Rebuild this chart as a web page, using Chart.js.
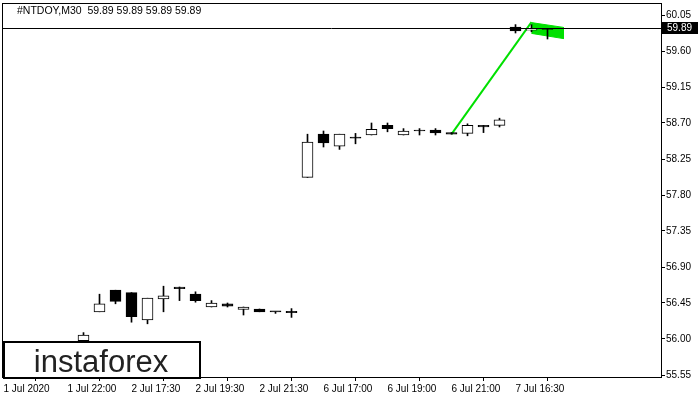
<!DOCTYPE html>
<html>
<head>
<meta charset="UTF-8">
<title>NTDOY M30</title>
<script src="https://cdn.jsdelivr.net/npm/chart.js"></script>
<style>
    body { margin: 0; background: #fff; }
    canvas { display: block; }
</style>
</head>
<body>
<canvas id="grafico" width="700" height="400"></canvas>
<script>
// candles by bar index (0..34), the first five are not visible
const opens  = [null, null, null, null, null, 55.98, 56.34, 56.61, 56.58, 56.24, 56.50, 56.65, 56.56, 56.40, 56.44, 56.37, 56.375, 56.34, 56.345, 58.02, 58.56, 58.41, 58.51, 58.55, 58.67, 58.55, 58.60, 58.61, 58.58, 58.57, 58.67, 58.67, 59.90, 59.86, 59.87];
const highs  = [null, null, null, null, null, 56.08, 56.56, 56.61, 56.58, 56.51, 56.66, 56.65, 56.59, 56.48, 56.45, 56.40, 56.375, 56.34, 56.38, 58.56, 58.60, 58.56, 58.57, 58.70, 58.70, 58.63, 58.63, 58.63, 58.58, 58.69, 58.67, 58.76, 59.93, 59.93, 59.88];
const lows   = [null, null, null, null, null, 55.95, 56.34, 56.44, 56.21, 56.19, 56.34, 56.48, 56.46, 56.40, 56.40, 56.30, 56.34, 56.32, 56.27, 58.02, 58.40, 58.37, 58.44, 58.55, 58.59, 58.55, 58.55, 58.55, 58.56, 58.54, 58.58, 58.65, 59.825, 59.84, 59.75];
const closes = [null, null, null, null, null, 56.05, 56.44, 56.47, 56.28, 56.51, 56.54, 56.63, 56.48, 56.45, 56.41, 56.40, 56.34, 56.34, 56.33, 58.46, 58.45, 58.56, 58.51, 58.62, 58.63, 58.60, 58.60, 58.575, 58.56, 58.67, 58.65, 58.74, 59.85, 59.88, 59.87];

const timeLabels = ['1 Jul 2020', '1 Jul 22:00', '2 Jul 17:30', '2 Jul 19:30', '2 Jul 21:30', '6 Jul 17:00', '6 Jul 19:00', '6 Jul 21:00', '7 Jul 16:30'];
const labelStep = 4;
const priceTicks = [55.55, 56.00, 56.45, 56.90, 57.35, 57.80, 58.25, 58.70, 59.15, 59.60, 60.05];

// pattern drawing
const trendX = [28, 33];
const trendY = [58.56, 59.96];
const flagX = [33, 35, 35, 33];
const flagY = [59.955, 59.895, 59.755, 59.82];

const lastPrice = 59.89;
const titulo = '#NTDOY,M30  59.89 59.89 59.89 59.89';

const wicks = [];
const bodies = [];
const bodyColors = [];
opens.forEach((o, i) => {
    if (o === null) return;
    wicks.push({ x: i, y: [lows[i], highs[i]] });
    bodies.push({ x: i, y: [o, closes[i]] });
    bodyColors.push(closes[i] > o ? '#ffffff' : '#000000');
});

const fonte = '"Liberation Sans", Arial, sans-serif';

const extras = {
    id: 'extras',
    afterDatasetsDraw(chart) {
        const { ctx, chartArea: a, scales: { y } } = chart;
        const py = Math.round(y.getPixelForValue(lastPrice)) + 0.5;
        ctx.save();
        ctx.strokeStyle = '#000';
        ctx.lineWidth = 1;
        ctx.beginPath();
        ctx.moveTo(a.left, py);
        ctx.lineTo(a.right, py);
        ctx.stroke();
        ctx.restore();
    },
    afterDraw(chart) {
        const { ctx, chartArea: a, scales: { y } } = chart;
        ctx.save();
        // frame
        ctx.strokeStyle = '#000';
        ctx.lineWidth = 1;
        ctx.strokeRect(Math.round(a.left) + 0.5, Math.round(a.top) + 0.5, Math.round(a.right - a.left), Math.round(a.bottom - a.top));

        // title
        ctx.fillStyle = '#000';
        ctx.font = '10.5px ' + fonte;
        ctx.textBaseline = 'middle';
        ctx.textAlign = 'left';
        ctx.fillText(titulo, 17, 11);

        // price tag
        const py = Math.round(y.getPixelForValue(lastPrice));
        ctx.fillStyle = '#000';
        ctx.fillRect(662, py - 6, 36, 12);
        ctx.fillStyle = '#fff';
        ctx.font = '10px ' + fonte;
        ctx.fillText(lastPrice.toFixed(2), 667, py + 0.5);

        // logo
        ctx.fillStyle = '#fff';
        ctx.fillRect(3, 341, 198, 37);
        ctx.strokeStyle = '#000';
        ctx.lineWidth = 2;
        ctx.strokeRect(4, 342, 196, 36);
        ctx.fillStyle = '#222';
        ctx.font = '31px ' + fonte;
        ctx.textAlign = 'center';
        ctx.textBaseline = 'alphabetic';
        ctx.fillText('instaforex', 101, 372);
        ctx.restore();
    }
};

new Chart(document.getElementById('grafico'), {
    type: 'bar',
    data: {
        datasets: [
            {
                type: 'line',
                data: flagX.map((x, i) => ({ x, y: flagY[i] })),
                borderColor: '#00e000',
                backgroundColor: '#00e000',
                borderWidth: 1,
                fill: 'shape',
                pointRadius: 0,
                tension: 0,
                order: 10
            },
            {
                type: 'line',
                data: trendX.map((x, i) => ({ x, y: trendY[i] })),
                borderColor: '#00e000',
                borderWidth: 2,
                pointRadius: 0,
                fill: false,
                order: 9
            },
            {
                data: wicks,
                backgroundColor: '#000',
                borderWidth: 0,
                barThickness: 1,
                grouped: false,
                order: 2
            },
            {
                data: bodies,
                backgroundColor: bodyColors,
                borderColor: '#000',
                borderWidth: 1,
                borderSkipped: false,
                barThickness: 11,
                minBarLength: 1,
                grouped: false,
                order: 1
            }
        ]
    },
    options: {
        responsive: false,
        animation: false,
        devicePixelRatio: 1,
        layout: { padding: { left: 2, top: 3, right: 0, bottom: 0 } },
        plugins: {
            legend: { display: false },
            tooltip: { enabled: false }
        },
        scales: {
            x: {
                type: 'linear',
                offset: false,
                min: -0.09375,
                max: 41.09375,
                afterFit: s => { s.height = 23; s.paddingLeft = 0; s.paddingRight = 0; },
                afterBuildTicks: s => { s.ticks = timeLabels.map((t, i) => ({ value: i * labelStep })); },
                grid: { drawOnChartArea: false, tickLength: 4, color: '#000' },
                border: { color: '#000' },
                ticks: {
                    autoSkip: false,
                    maxRotation: 0,
                    align: 'start',
                    padding: 2,
                    color: '#000',
                    font: { family: fonte, size: 10 },
                    callback: v => timeLabels[Math.round(v / labelStep)]
                }
            },
            y: {
                position: 'right',
                min: 55.525,
                max: 60.2,
                afterFit: s => { s.width = 39; s.paddingTop = 0; s.paddingBottom = 0; },
                afterBuildTicks: s => { s.ticks = priceTicks.map(v => ({ value: v })); },
                grid: { drawOnChartArea: false, tickLength: 4, color: '#000' },
                border: { color: '#000' },
                ticks: {
                    padding: 1,
                    color: '#000',
                    font: { family: fonte, size: 10 },
                    callback: v => v.toFixed(2)
                }
            }
        }
    },
    plugins: [extras]
});
</script>
</body>
</html>
